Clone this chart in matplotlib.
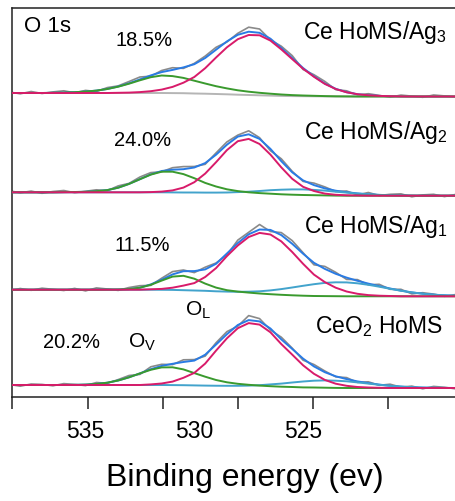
import matplotlib
matplotlib.use('Agg')
import matplotlib.pyplot as plt

plt.rcParams['font.family'] = ['Liberation Sans', 'DejaVu Sans']
plt.rcParams['mathtext.fontset'] = 'custom'
plt.rcParams['mathtext.rm'] = 'Liberation Sans'
plt.rcParams['mathtext.default'] = 'regular'

# binding energy grid (eV)
energy = [538.5, 538.0, 537.5, 537.0, 536.5, 536.0, 535.5, 535.0, 534.5, 534.0,
          533.5, 533.0, 532.5, 532.0, 531.5, 531.0, 530.5, 530.0, 529.5, 529.0,
          528.5, 528.0, 527.5, 527.0, 526.5, 526.0, 525.5, 525.0, 524.5, 524.0,
          523.5, 523.0, 522.5, 522.0, 521.5, 521.0, 520.5, 520.0, 519.5, 519.0,
          518.5, 518.0, 517.5]

# --- Ce HoMS/Ag3 ---
bg_ag3 = [3.5] * 14 + [3.5, 3.4, 3.3, 3.0, 2.8, 2.5, 2.2, 1.8, 1.5, 1.2, 0.9, 0.6,
                       0.4, 0.3, 0.2, 0.1, 0.0] + [0.0] * 12
ol_ag3 = [0] * 10 + [0.2, 0.4, 0.9, 1.8, 3.4, 6.2, 10.5, 16.5, 25.5, 36.5, 47, 55.5,
                     60, 60, 55, 46.5, 37, 27.5, 19.5, 12.5, 7.5, 4.2, 2.3, 1.2, 0.6,
                     0.3, 0.1] + [0] * 6
ov_ag3 = [0] * 4 + [0.2, 0.4, 0.8, 1.4, 2.4, 4.0, 6.3, 9.3, 12.7, 15.8, 17.5, 17.0,
                    15.3, 12.8, 10.2, 7.8, 5.9, 4.4, 3.3, 2.5, 1.9, 1.4, 1.0, 0.7,
                    0.5, 0.3, 0.2, 0.1] + [0] * 11
ox_ag3 = [0] * 43
res_ag3 = [1.0, -0.8, 1.5, -0.5, 0.9, 1.8, -0.6, 1.2, -0.9, 1.4, 0.6, 1.8, 2.4, -0.8,
           1.6, 2.2, -1.0, 0.8, 1.9, 2.4, -0.6, 1.5, 4.5, 3.8, -1.2, 1.8, 2.5, -1.5,
           1.6, 2.2, -0.8, 1.4, -0.7, 1.6, 0.5, -1.0, 1.3, 0.4, -0.8, 1.5, 0.6, -0.5, 1.0]

# --- Ce HoMS/Ag2 ---
bg_ag2 = [3.4] * 14 + [3.4, 3.3, 3.2, 3.0, 2.7, 2.4, 2.1, 1.8, 1.4, 1.1, 0.9, 0.6,
                       0.4, 0.3, 0.2, 0.1, 0.0] + [0.0] * 12
ol_ag2 = [0] * 13 + [0.2, 0.7, 2.0, 4.9, 10.5, 19.4, 31.1, 43.5, 52.7, 55.4, 50.6,
                     40.2, 27.7, 16.5, 8.6, 4.5, 2.0, 0.9, 0.4, 0.2] + [0] * 10
ov_ag2 = [0] * 5 + [0.2, 0.3, 0.5, 1.1, 2.2, 4.6, 8.4, 13.1, 17.7, 20.6, 20.7, 18.4,
                    14.5, 10.1, 6.8, 4.3, 2.8, 2.0, 1.5, 1.1, 0.8, 0.6, 0.4, 0.3,
                    0.2, 0.1] + [0] * 12
ox_ag2 = [0] * 17 + [0.2, 0.4, 0.7, 1.1, 1.8, 2.6, 3.6, 4.6, 5.4, 5.9, 6.0, 5.6, 5.0,
                     4.0, 3.1, 2.1, 1.4, 0.8, 0.5, 0.25, 0.1] + [0] * 5
res_ag2 = [1.5, -0.5, 1.2, -1.0, 0.8, 1.6, -0.7, 0.5, 1.4, -0.6, 1.8, 0.5, 2.2, 1.8,
           -0.8, 2.0, 2.6, 1.0, -1.2, 1.8, 2.8, 1.5, 3.5, 1.2, -1.8, 2.4, 1.0, -1.0,
           2.0, 1.5, -0.8, 1.2, -1.5, 1.8, -0.6, 0.9, 1.6, -1.2, 0.8, 1.4, -0.9, 1.2, 0.5]

# --- Ce HoMS/Ag1 ---
bg_ag1 = [6.6] * 14 + [6.5, 6.4, 6.1, 5.7, 5.3, 4.7, 4.1, 3.4, 2.8, 2.2, 1.7, 1.2,
                       0.8, 0.5, 0.3, 0.2, 0.1] + [0.0] * 12
ol_ag1 = [0] * 13 + [0.4, 0.9, 2.2, 4.6, 7.5, 14.0, 23.5, 36.1, 47.4, 56.5, 61.2,
                     60.1, 53.7, 43.5, 32.0, 21.4, 14.0, 8.5, 4.8, 2.5, 1.2, 0.6,
                     0.3] + [0] * 7
ov_ag1 = [0] * 9 + [0.1, 0.2, 0.6, 2.0, 4.9, 9.2, 13.3, 14.4, 11.9, 7.4, 4.0, 2.0,
                    1.3, 0.9, 0.6, 0.4, 0.3, 0.2, 0.1] + [0] * 15
ox_ag1 = [0] * 17 + [0.1, 0.2, 0.3, 0.6, 1.1, 1.8, 2.8, 4.2, 6.0, 8.0, 10.0, 11.8,
                     13.2, 13.9, 13.9, 13.0, 11.5, 9.6, 7.5, 5.6, 3.9, 2.6, 1.6, 1.0,
                     0.5, 0.3]
res_ag1 = [-1.0, 1.2, -0.6, 1.5, 0.4, -0.8, 1.3, -1.2, 1.8, 0.6, -0.9, 1.6, 2.0, -1.0,
           1.5, 2.8, 1.2, -1.5, 2.2, 0.8, -1.5, 3.0, 2.0, 5.0, -1.6, 2.5, 3.2, 1.0,
           -2.0, 2.5, 1.5, -1.8, 1.2, -1.2, 1.8, -0.8, 1.4, -1.5, 1.0, 0.6, -1.0, 1.2, -0.4]

# --- CeO2 HoMS ---
bg_ceo2 = [3.0] * 14 + [3.0, 2.9, 2.8, 2.6, 2.4, 2.1, 1.9, 1.6, 1.3, 1.0, 0.8, 0.5,
                        0.4, 0.2, 0.2, 0.1, 0.0] + [0.0] * 12
ol_ceo2 = [0] * 13 + [0.6, 1.5, 3.5, 7.4, 12.5, 22.0, 35.3, 47.8, 58.2, 63.6, 62.4,
                      54.9, 43.4, 33.0, 22.5, 14.0, 8.0, 4.3, 2.2, 1.0, 0.5, 0.2] + [0] * 8
ov_ceo2 = [0] * 6 + [0.15, 0.4, 1.0, 2.3, 4.5, 7.7, 11.6, 15.2, 17.6, 17.8, 15.8,
                     12.3, 8.9, 5.9, 3.8, 2.6, 1.9, 1.4, 1.0, 0.8, 0.6, 0.4, 0.3,
                     0.2, 0.1] + [0] * 12
ox_ceo2 = [0] * 19 + [0.16, 0.3, 0.6, 1.1, 1.8, 2.8, 3.9, 5.1, 6.3, 7.1, 7.5, 7.3,
                      6.7, 5.6, 4.4, 3.2, 2.2, 1.4, 0.8, 0.4, 0.2, 0.1] + [0] * 2
res_ceo2 = [0.5, -1.2, 1.0, 0.6, -0.8, 1.4, 0.4, -1.0, 1.5, -0.6, 0.9, 1.8, -1.0, 2.4,
            1.6, -0.8, 2.2, 1.0, -1.4, 1.8, 2.6, -1.2, 4.5, 2.8, -1.5, 2.2, 0.8, -1.6,
            1.9, 1.2, -0.5, 1.5, -1.0, 1.3, -0.7, 1.6, -0.6, 1.1, -1.2, 1.4, 0.6, -0.8, 1.0]

samples = ['Ce HoMS/Ag$_3$', 'Ce HoMS/Ag$_2$', 'Ce HoMS/Ag$_1$', 'CeO$_2$ HoMS']
ov_percent = ['18.5%', '24.0%', '11.5%', '20.2%']
offsets = [300.5, 201.3, 100.7, 9.0]

tick_pos = [538.38, 534.89, 531.44, 527.99, 524.54, 521.09]
tick_labels = [535, 530, 525]

C_RAW = '#8a8a8a'
C_OL = '#d81b6a'
C_OV = '#3a9a2e'
C_FIT = '#2a7be4'
C_OX = '#42a3cc'

fig = plt.figure(figsize=(4.56, 5.02), dpi=100)
ax = fig.add_axes([12 / 456, 1 - 398 / 502, 444 / 456, 389 / 502])

data = [
    (bg_ag3, ol_ag3, ov_ag3, ox_ag3, res_ag3, False),
    (bg_ag2, ol_ag2, ov_ag2, ox_ag2, res_ag2, True),
    (bg_ag1, ol_ag1, ov_ag1, ox_ag1, res_ag1, True),
    (bg_ceo2, ol_ceo2, ov_ceo2, ox_ceo2, res_ceo2, True),
]

lw = 1.4
for off, (bg, ol, ov, ox, res, has_ox) in zip(offsets, data):
    base = [off + b for b in bg]
    fit = [b + l + v + x for b, l, v, x in zip(base, ol, ov, ox)]
    raw = [f + r for f, r in zip(fit, res)]
    ax.plot(energy, raw, color=C_RAW, lw=1.2, zorder=1)
    ax.plot(energy, fit, color=C_FIT, lw=lw, zorder=2)
    if has_ox:
        ax.plot(energy, [b + x for b, x in zip(base, ox)], color=C_OX, lw=lw, zorder=3)
    else:
        ax.plot(energy, base, color='#b5b5b5', lw=lw, zorder=3)
    ax.plot(energy, [b + v for b, v in zip(base, ov)], color=C_OV, lw=lw, zorder=4)
    ax.plot(energy, [b + l for b, l in zip(base, ol)], color=C_OL, lw=lw, zorder=5)

ax.set_xlim(538.38, 517.97)
ax.set_ylim(0, 389)

# labels
ax.text(537.83, 372, 'O 1s', fontsize=16, ha='left', va='center')
pct_pos = [(533.64, 358), (533.69, 257), (533.69, 152), (536.95, 55)]
name_pos = [(525.0, 365), (524.95, 266), (524.95, 171), (524.45, 71)]
for s, p, (px, py), (nx, ny) in zip(samples, ov_percent, pct_pos, name_pos):
    ax.text(px, py, p, fontsize=14.5, ha='left', va='center')
    ax.text(nx, ny, s, fontsize=16.5, ha='left', va='center')
ax.text(530.43, 88, 'O$_L$', fontsize=15, ha='left', va='center')
ax.text(533.05, 56, 'O$_V$', fontsize=15, ha='left', va='center')

# axes styling
ax.spines['right'].set_visible(False)
for sp in ['left', 'top', 'bottom']:
    ax.spines[sp].set_linewidth(1.1)
    ax.spines[sp].set_color('#222222')
ax.set_yticks([])
ax.set_xticks(tick_pos)
ax.set_xticklabels([''] * len(tick_pos))
ax.set_xticks(tick_labels, minor=True)
ax.set_xticklabels([str(t) for t in tick_labels], minor=True)
ax.tick_params(axis='x', which='major', direction='out', length=8.5, width=1.1,
               color='#222222')
ax.tick_params(axis='x', which='minor', length=0, labelsize=16.5, pad=16)

ax.set_xlabel('Binding energy (ev)', fontsize=23)
ax.xaxis.label.set_va('center')
ax.xaxis.set_label_coords((245 - 12) / 444, -80 / 389)

fig.savefig('out.png', dpi=100)
